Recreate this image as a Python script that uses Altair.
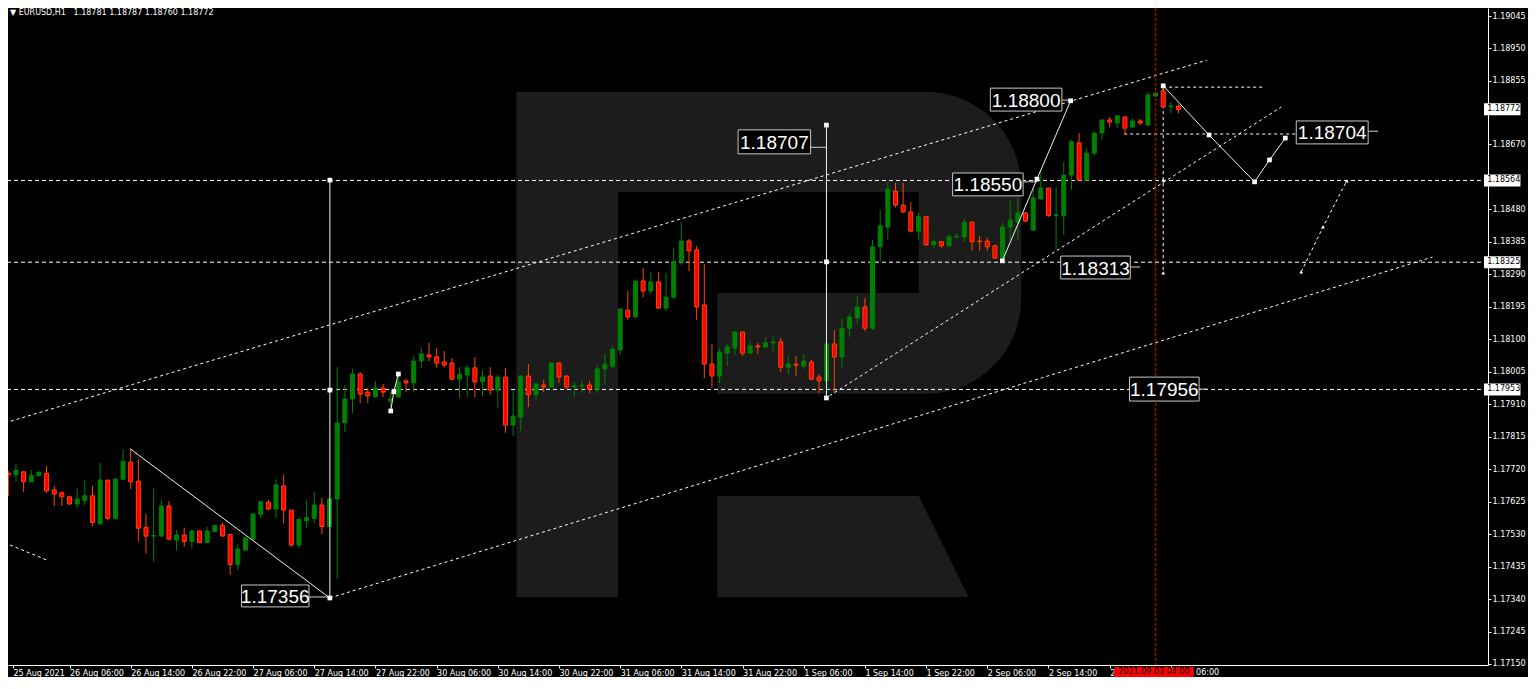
import json
import altair as alt
import pandas as pd

# ---------------- data ----------------
# bar index 0 = 25 Aug 2021 22:00 (H1 bars, weekend skipped), last bar = 3 Sep 07:00
OPEN = [
1.17708,1.17703,1.17712,1.17683,1.17701,1.17708,1.17659,1.17651,1.17639,1.17618,
1.17628,1.17642,1.17561,1.17688,1.17576,1.17690,1.17740,1.17685,1.17550,1.17524,
1.17524,1.17612,1.17513,1.17527,1.17508,1.17539,1.17505,1.17537,1.17555,1.17529,
1.17441,1.17483,1.17515,1.17588,1.17623,1.17603,1.17671,1.17600,1.17498,1.17569,
1.17576,1.17615,1.17552,1.17633,1.17855,1.17925,1.17998,1.17945,1.17931,1.17957,
1.17919,1.17931,1.17978,1.17972,1.18036,1.18054,1.18048,1.18033,1.18030,1.17983,
1.17995,1.18016,1.17975,1.17992,1.17951,1.17989,1.17849,1.17872,1.17992,1.17937,
1.17966,1.17960,1.18030,1.17992,1.17960,1.17963,1.17966,1.17954,1.18013,1.18021,
1.18068,1.18185,1.18165,1.18270,1.18241,1.18267,1.18191,1.18223,1.18326,1.18387,
1.18361,1.18200,1.18027,1.17992,1.18059,1.18074,1.18121,1.18059,1.18080,1.18077,
1.18089,1.18092,1.18018,1.18027,1.18021,1.18033,1.17989,1.17978,1.18086,1.18048,
1.18132,1.18162,1.18194,1.18132,1.18370,1.18428,1.18533,1.18492,1.18472,1.18416,
1.18458,1.18376,1.18385,1.18373,1.18399,1.18399,1.18442,1.18387,1.18387,1.18373,
1.18337,1.18428,1.18442,1.18469,1.18419,1.18510,1.18542,1.18461,1.18461,1.18580,
1.18674,1.18565,1.18644,1.18703,1.18741,1.18732,1.18750,1.18720,1.18738,1.18726,
1.18811,1.18826,1.18780,1.18781]
HIGH = [
1.17715,1.17735,1.17714,1.17717,1.17715,1.17729,1.17671,1.17651,1.17642,1.17664,
1.17688,1.17671,1.17739,1.17688,1.17691,1.17778,1.17779,1.17749,1.17589,1.17664,
1.17630,1.17627,1.17542,1.17549,1.17539,1.17539,1.17552,1.17556,1.17564,1.17529,
1.17501,1.17519,1.17589,1.17627,1.17630,1.17690,1.17705,1.17600,1.17573,1.17630,
1.17654,1.17636,1.17633,1.18018,1.17966,1.18013,1.18004,1.17957,1.17978,1.17969,
1.17945,1.17998,1.17983,1.18051,1.18074,1.18089,1.18074,1.18065,1.18045,1.18018,
1.18024,1.18048,1.18010,1.18018,1.17995,1.18016,1.17951,1.17995,1.18027,1.17969,
1.17981,1.18033,1.18030,1.17995,1.17975,1.17978,1.17978,1.18024,1.18057,1.18080,
1.18191,1.18241,1.18270,1.18308,1.18297,1.18297,1.18294,1.18367,1.18442,1.18393,
1.18373,1.18320,1.18086,1.18074,1.18086,1.18124,1.18121,1.18095,1.18089,1.18106,
1.18109,1.18104,1.18048,1.18051,1.18057,1.18039,1.17998,1.18089,1.18127,1.18159,
1.18176,1.18226,1.18220,1.18390,1.18478,1.18560,1.18557,1.18557,1.18501,1.18469,
1.18458,1.18393,1.18387,1.18405,1.18410,1.18455,1.18445,1.18402,1.18396,1.18376,
1.18439,1.18507,1.18513,1.18472,1.18542,1.18595,1.18542,1.18545,1.18619,1.18682,
1.18703,1.18659,1.18703,1.18741,1.18750,1.18753,1.18750,1.18744,1.18744,1.18823,
1.18820,1.18840,1.18794,1.18787]
LOW = [
1.17642,1.17683,1.17654,1.17683,1.17698,1.17651,1.17612,1.17612,1.17615,1.17605,
1.17615,1.17553,1.17556,1.17571,1.17573,1.17690,1.17662,1.17508,1.17474,1.17449,
1.17522,1.17513,1.17481,1.17493,1.17488,1.17505,1.17503,1.17537,1.17524,1.17410,
1.17425,1.17483,1.17513,1.17576,1.17600,1.17576,1.17561,1.17493,1.17488,1.17547,
1.17561,1.17530,1.17552,1.17399,1.17828,1.17884,1.17913,1.17913,1.17931,1.17931,
1.17893,1.17931,1.17945,1.17945,1.18016,1.18036,1.18016,1.18018,1.17981,1.17928,
1.17931,1.17931,1.17934,1.17937,1.17899,1.17826,1.17817,1.17831,1.17901,1.17922,
1.17945,1.17960,1.17972,1.17954,1.17931,1.17942,1.17942,1.17942,1.17966,1.18016,
1.18054,1.18156,1.18162,1.18223,1.18232,1.18188,1.18182,1.18217,1.18317,1.18299,
1.18156,1.17986,1.17957,1.17972,1.18021,1.18054,1.18051,1.18057,1.18057,1.18074,
1.18065,1.18004,1.17998,1.17992,1.18013,1.17981,1.17942,1.17937,1.17945,1.18016,
1.18106,1.18147,1.18124,1.18127,1.18326,1.18390,1.18486,1.18469,1.18413,1.18390,
1.18373,1.18367,1.18367,1.18370,1.18393,1.18385,1.18358,1.18358,1.18358,1.18337,
1.18331,1.18390,1.18390,1.18442,1.18416,1.18507,1.18458,1.18361,1.18405,1.18536,
1.18565,1.18565,1.18639,1.18682,1.18720,1.18717,1.18697,1.18720,1.18726,1.18726,
1.18808,1.18779,1.18761,1.18760]
CLOSE = [
1.17703,1.17717,1.17683,1.17701,1.17710,1.17656,1.17647,1.17639,1.17618,1.17632,
1.17642,1.17564,1.17688,1.17576,1.17691,1.17742,1.17683,1.17547,1.17524,1.17526,
1.17612,1.17515,1.17527,1.17508,1.17539,1.17505,1.17539,1.17555,1.17524,1.17441,
1.17486,1.17519,1.17589,1.17625,1.17603,1.17674,1.17600,1.17498,1.17573,1.17578,
1.17615,1.17552,1.17633,1.17855,1.17925,1.17998,1.17939,1.17934,1.17957,1.17945,
1.17925,1.17975,1.17972,1.18036,1.18057,1.18048,1.18030,1.18024,1.17983,1.17998,
1.18016,1.17975,1.17989,1.17951,1.17989,1.17849,1.17875,1.17992,1.17937,1.17969,
1.17960,1.18030,1.17989,1.17960,1.17963,1.17964,1.17954,1.18013,1.18027,1.18071,
1.18188,1.18165,1.18270,1.18241,1.18267,1.18191,1.18223,1.18326,1.18387,1.18358,
1.18194,1.18027,1.17992,1.18062,1.18077,1.18121,1.18059,1.18080,1.18077,1.18089,
1.18092,1.18018,1.18027,1.18024,1.18036,1.17983,1.17978,1.18086,1.18048,1.18132,
1.18165,1.18194,1.18132,1.18370,1.18431,1.18539,1.18492,1.18472,1.18416,1.18458,
1.18376,1.18385,1.18373,1.18399,1.18400,1.18442,1.18385,1.18385,1.18370,1.18337,
1.18428,1.18448,1.18469,1.18445,1.18513,1.18542,1.18461,1.18464,1.18580,1.18677,
1.18565,1.18644,1.18703,1.18741,1.18735,1.18753,1.18717,1.18738,1.18732,1.18814,
1.18820,1.18779,1.18782,1.18772]
assert len(OPEN) == len(HIGH) == len(LOW) == len(CLOSE) == 154

# time-axis labels (one every 8 bars); the red time label hides most of the last two
X_LABELS = ["25 Aug 2021", "26 Aug 06:00", "26 Aug 14:00", "26 Aug 22:00", "27 Aug 06:00",
            "27 Aug 14:00", "27 Aug 22:00", "30 Aug 06:00", "30 Aug 14:00", "30 Aug 22:00",
            "31 Aug 06:00", "31 Aug 14:00", "31 Aug 22:00", "1 Sep 06:00", "1 Sep 14:00",
            "1 Sep 22:00", "2 Sep 06:00", "2 Sep 14:00", "2", ""]
X_TAIL_LABEL = ["06:00"]          # visible end of "3 Sep 06:00"
X_TAIL_POS = [155.3]
# price-axis labels
Y_TICKS = [1.19045, 1.18950, 1.18855, 1.18760, 1.18670, 1.18480, 1.18385, 1.18290,
           1.18195, 1.18100, 1.18005, 1.17910, 1.17815, 1.17720, 1.17625, 1.17530, 1.17435,
           1.17340, 1.17245, 1.17150]
Y_HIDDEN = [1.18760]                             # label covered by the current-price box
H_LEVELS = [1.18564, 1.18325, 1.17953]          # dashed horizontal levels
AXIS_MARKS = [1.18772, 1.18564, 1.18325, 1.17953]  # highlighted price-axis labels
VLINE_RED = [150.03]                             # 2021.09.03 04:00

PLOT_W, PLOT_H = 1480, 657
X_MIN = 0.61
X_MAX = X_MIN + PLOT_W / 7.7
P_MAX = 1.190684
P_MIN = P_MAX - PLOT_H / 34195.0

# drawn objects (bar index, price)
SOLID = {
    "drop":  [(15.95, 1.17779), (42.04, 1.17343)],
    "v1":    [(42.04, 1.18565), (42.04, 1.17343)],
    "v2":    [(106.97, 1.18726), (106.97, 1.17928)],
    "rise":  [(129.97, 1.18329), (134.5, 1.18568), (138.9, 1.18797)],
    "proj":  [(151.0, 1.18841), (157.0, 1.18697), (162.95, 1.18560), (164.9, 1.18624), (166.97, 1.18688)],
    "zig":   [(50.0, 1.17890), (50.4, 1.17946), (51.0, 1.17998)],
}
DOTTED = {
    "upper": [(-0.43, 1.17855), (156.71, 1.18916)],
    "lower": [(42.04, 1.17343), (186.2, 1.18340)],
    "mid":   [(107.36, 1.17934), (166.45, 1.18779)],
    "left":  [(0.22, 1.17498), (5.03, 1.17454)],
    "hi":    [(151.0, 1.18837), (164.1, 1.18837)],
    "h704":  [(145.9, 1.18700), (168.4, 1.18700)],
    "vdrop": [(151.0, 1.18837), (151.0, 1.18294)],
    "proj2": [(169.05, 1.18297), (171.9, 1.18428), (175.0, 1.18563)],
}
SQUARES = [(42.04, 1.18565), (42.04, 1.17951), (42.04, 1.17343), (106.97, 1.18726),
           (106.97, 1.18326), (106.97, 1.17928), (129.97, 1.18329), (134.5, 1.18568),
           (138.9, 1.18797), (151.0, 1.18841), (157.0, 1.18697), (162.95, 1.18560),
           (164.9, 1.18624), (166.97, 1.18688), (50.0, 1.17890), (50.4, 1.17946), (51.0, 1.17998)]
ARROWS = [(151.0, 1.18565), (151.0, 1.18294), (169.05, 1.18297), (171.9, 1.18428), (175.0, 1.18563)]

BOX_TEXT = ["1.17356", "1.18707", "1.18800", "1.18550", "1.18313", "1.17956", "1.18704"]
BOX_X0 = [30.48, 95.42, 128.40, 123.47, 137.60, 146.60, 168.40]
BOX_X1 = [39.31, 104.90, 137.76, 132.69, 146.70, 155.70, 177.80]
BOX_PT = [1.17381, 1.18712, 1.18834, 1.18586, 1.18343, 1.17989, 1.18738]
BOX_PB = [1.17317, 1.18642, 1.18767, 1.18519, 1.18276, 1.17919, 1.18671]
CONN_X0 = [39.31, 104.90, 137.76, 132.69, 146.70, 155.70, 177.80]
CONN_X1 = [42.04, 106.97, 138.90, 134.50, 148.00, 156.70, 179.10]
CONN_P = [1.17346, 1.18661, 1.18799, 1.18560, 1.18311, 1.17954, 1.18708]

# watermark "R" (bar index, price)
LOGO_BOWL = [(66.45, 132.43, 1.18823, 1.17940)]
LOGO_HOLES = [(79.70, 119.05, 1.18530, 1.18235), (79.70, 92.69, 1.18235, 1.17940)]
LOGO_STEM = [(66.45, 79.70, 1.18823, 1.17346)]
LOGO_LEG = [(1.17641, 92.69, 119.05), (1.17346, 92.69, 125.55)]

TITLE = "\u25bc EURUSD,H1\u00a0\u00a0 1.18781 1.18787 1.18760 1.18772"
RED_LABEL = "2021.09.03 04:00"

# ---------------- build tables ----------------
rows = []
for i, (o, h, l, c) in enumerate(zip(OPEN, HIGH, LOW, CLOSE)):
    rows.append({"idx": i, "o": o, "c": c, "h": max(h, o, c), "l": min(l, o, c),
                 "dir": "up" if c >= o else "down"})
candles = pd.DataFrame(rows)


def poly_df(d):
    out = []
    for name, pts in d.items():
        for k, (x, p) in enumerate(pts):
            out.append({"line": name, "ord": k, "X": x, "P": p})
    return pd.DataFrame(out)


solid_df = poly_df(SOLID)
dotted_df = poly_df(DOTTED)
sq_df = pd.DataFrame(SQUARES, columns=["X", "P"])
arr_df = pd.DataFrame(ARROWS, columns=["X", "P"])
box_df = pd.DataFrame({"t": BOX_TEXT, "x0": BOX_X0, "x1": BOX_X1, "p0": BOX_PT, "p1": BOX_PB})
box_df["xm"] = (box_df.x0 + box_df.x1) / 2
box_df["pm"] = (box_df.p0 + box_df.p1) / 2
conn_df = pd.DataFrame({"x0": CONN_X0, "x1": CONN_X1, "p": CONN_P})
hl_df = pd.DataFrame({"P": H_LEVELS})
am_df = pd.DataFrame({"P": AXIS_MARKS})
am_df["t"] = am_df.P.map(lambda v: f"{v:.5f}")
am_df["x0"] = X_MAX + 0.13
am_df["x1"] = X_MAX + 4.9
am_df["xm"] = X_MAX + 0.55
half = 6 / 34195.0
am_df["p0"] = am_df.P + half
am_df["p1"] = am_df.P - half
red_df = pd.DataFrame({"X": VLINE_RED})
redlab_df = pd.DataFrame({"x0": [144.6], "x1": [155.0], "xm": [149.8], "t": [RED_LABEL]})
tail_df = pd.DataFrame({"X": X_TAIL_POS, "t": X_TAIL_LABEL})
bowl_df = pd.DataFrame(LOGO_BOWL, columns=["x0", "x1", "p0", "p1"])
holes_df = pd.DataFrame(LOGO_HOLES, columns=["x0", "x1", "p0", "p1"])
stem_df = pd.DataFrame(LOGO_STEM, columns=["x0", "x1", "p0", "p1"])
leg_df = pd.DataFrame(LOGO_LEG, columns=["P", "xl", "xr"])
title_df = pd.DataFrame({"t": [TITLE]})

# ---------------- scales & axes ----------------
xs = alt.Scale(domain=[X_MIN, X_MAX], nice=False, zero=False)
ys = alt.Scale(domain=[P_MIN, P_MAX], nice=False, zero=False)
x_label_expr = json.dumps(X_LABELS) + "[round(datum.value / 8)]"
y_label_expr = ("indexof(" + json.dumps(Y_HIDDEN) + ", datum.value) >= 0 ? '' : "
                "format(datum.value, '.5f')")
x_axis = alt.Axis(values=[X_MIN] + list(range(8, 153, 8)), labelExpr=x_label_expr, title="",
                  orient="bottom", grid=False, tickSize=3, labelPadding=1, labelAlign="left",
                  labelBaseline="top", labelOverlap=False, labelFlush=False, labelBound=False,
                  domainColor="#ffffff", tickColor="#ffffff", labelColor="#ffffff",
                  labelFont="DejaVu Sans", labelFontSize=8)
y_axis = alt.Axis(values=Y_TICKS, labelExpr=y_label_expr, title="", orient="right", grid=False,
                  tickSize=3, labelPadding=1, labelOverlap=False, labelFlush=False,
                  labelBound=False, domainColor="#ffffff", tickColor="#ffffff",
                  labelColor="#ffffff", labelFont="DejaVu Sans", labelFontSize=8)


def X(f):
    return alt.X(f, type="quantitative", scale=xs, axis=x_axis)


def Y(f):
    return alt.Y(f, type="quantitative", scale=ys, axis=y_axis)


LOGO = "#1c1c1c"
WHITE = "#ffffff"

bowl = alt.Chart(bowl_df).mark_rect(color=LOGO, cornerRadiusTopRight=95,
                                    cornerRadiusBottomRight=95).encode(
    x=X("x0"), x2="x1", y=Y("p0"), y2="p1")
holes = alt.Chart(holes_df).mark_rect(color="#000000").encode(x=X("x0"), x2="x1", y=Y("p0"), y2="p1")
stem = alt.Chart(stem_df).mark_rect(color=LOGO).encode(x=X("x0"), x2="x1", y=Y("p0"), y2="p1")
leg = alt.Chart(leg_df).mark_area(color=LOGO, orient="horizontal").encode(
    y=Y("P"), x=X("xl"), x2="xr")

hlines = alt.Chart(hl_df).mark_rule(color=WHITE, strokeDash=[4, 3], strokeWidth=1).encode(y=Y("P"))
dotted = alt.Chart(dotted_df).mark_line(color=WHITE, strokeDash=[3, 3], strokeWidth=1, clip=True).encode(
    x=X("X"), y=Y("P"), detail="line:N", order="ord:Q")

stroke_scale = alt.Scale(domain=["up", "down"], range=["#008000", "#ff4500"])
fill_scale = alt.Scale(domain=["up", "down"], range=["#008000", "#ff0000"])
wicks = alt.Chart(candles).mark_rule(strokeWidth=1, clip=True).encode(
    x=X("idx"), y=Y("l"), y2="h",
    stroke=alt.Stroke("dir:N", scale=stroke_scale, legend=None))
bodies = alt.Chart(candles).mark_bar(size=4, strokeWidth=1, clip=True).encode(
    x=X("idx"), y=Y("o"), y2="c",
    fill=alt.Fill("dir:N", scale=fill_scale, legend=None),
    stroke=alt.Stroke("dir:N", scale=stroke_scale, legend=None))

solid = alt.Chart(solid_df).mark_line(color="#f0f0f0", strokeWidth=1, clip=True).encode(
    x=X("X"), y=Y("P"), detail="line:N", order="ord:Q")
conns = alt.Chart(conn_df).mark_rule(color="#d0d0d0", strokeWidth=1).encode(
    x=X("x0"), x2="x1", y=Y("p"))
squares = alt.Chart(sq_df).mark_square(color=WHITE, size=22, opacity=1, filled=True).encode(
    x=X("X"), y=Y("P"))
arrows = alt.Chart(arr_df).mark_point(shape="triangle-up", color=WHITE, size=14, filled=True,
                                      opacity=1).encode(x=X("X"), y=Y("P"))
redline = alt.Chart(red_df).mark_rule(color="#ff0000", strokeDash=[3, 2], strokeWidth=1).encode(x=X("X"))

boxes = alt.Chart(box_df).mark_rect(fill="#000000", stroke="#c8c8c8", strokeWidth=1).encode(
    x=X("x0"), x2="x1", y=Y("p0"), y2="p1")
box_text = alt.Chart(box_df).mark_text(color=WHITE, font="Liberation Sans", fontSize=19,
                                       align="center", baseline="middle", dy=1).encode(
    x=X("xm"), y=Y("pm"), text="t:N")

am_boxes = alt.Chart(am_df).mark_rect(fill=WHITE, clip=False).encode(
    x=X("x0"), x2="x1", y=Y("p0"), y2="p1")
am_text = alt.Chart(am_df).mark_text(color="#000000", font="DejaVu Sans", fontSize=8,
                                     align="left", baseline="middle", clip=False).encode(
    x=X("xm"), y=Y("P"), text="t:N")

title = alt.Chart(title_df).mark_text(color=WHITE, font="DejaVu Sans", fontSize=8, align="left",
                                      baseline="middle").encode(
    x=alt.value(2), y=alt.value(5), text="t:N")
red_box = alt.Chart(redlab_df).mark_rect(fill="#ff0000", clip=False).encode(
    x=X("x0"), x2="x1", y=alt.value(PLOT_H + 2), y2=alt.value(PLOT_H + 12))
red_text = alt.Chart(redlab_df).mark_text(color="#000000", font="DejaVu Sans", fontSize=8,
                                          align="center", baseline="middle", clip=False).encode(
    x=X("xm"), y=alt.value(PLOT_H + 7), text="t:N")
tail_text = alt.Chart(tail_df).mark_text(color=WHITE, font="DejaVu Sans", fontSize=8,
                                         align="left", baseline="top", clip=False).encode(
    x=X("X"), y=alt.value(PLOT_H + 4), text="t:N")

chart = alt.layer(
    bowl, holes, stem, leg, hlines, dotted, wicks, bodies, solid, conns, squares, arrows,
    redline, boxes, box_text, am_boxes, am_text, title, red_box, red_text, tail_text
).properties(
    width=PLOT_W, height=PLOT_H,
    autosize=alt.AutoSizeParams(type="none"),
    padding={"left": 0, "top": 0, "right": 40, "bottom": 12},
).configure(background="#000000").configure_view(stroke=None)

chart.save("out.html", embed_options={"renderer": "svg", "actions": False})
